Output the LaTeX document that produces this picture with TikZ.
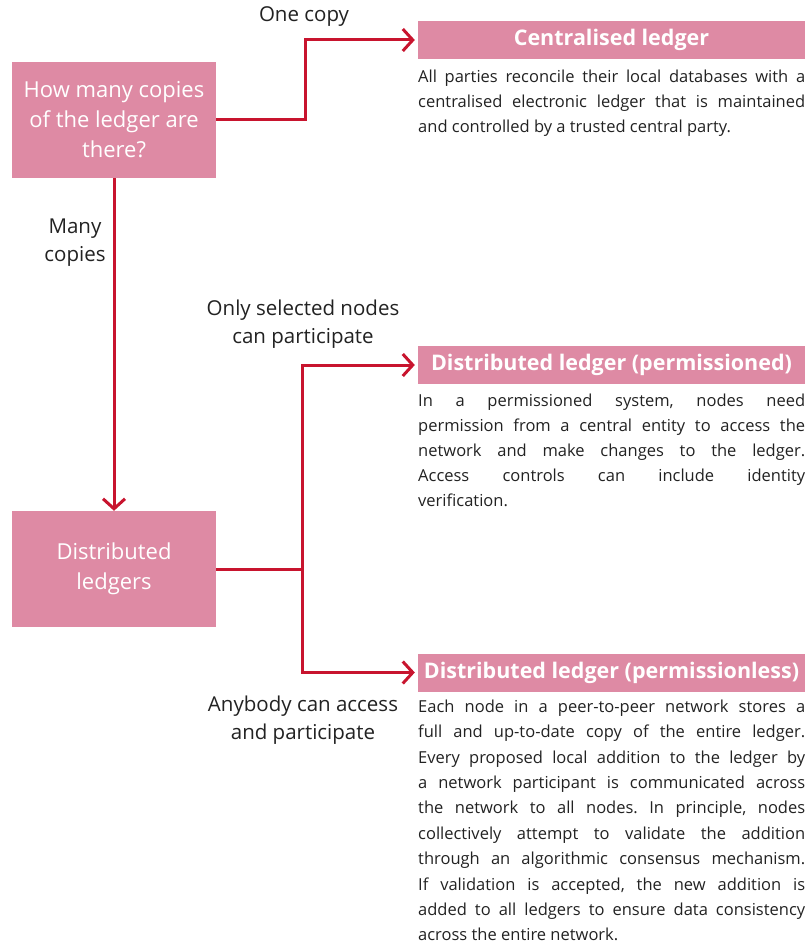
\documentclass[tikz,border=0pt]{standalone}
\usepackage{fontspec}
\setmainfont{Open Sans}
\usetikzlibrary{arrows.meta}
\definecolor{ledgerpink}{HTML}{DE8AA4}
\definecolor{ledgerred}{HTML}{C8142E}
\definecolor{ledgerink}{HTML}{222222}
\frenchspacing

\begin{document}
\begin{tikzpicture}[x=1pt,y=-1pt,
    qbox/.style={fill=ledgerpink, text=white, minimum width=204pt,
      minimum height=116pt, align=center, inner sep=0pt,
      font=\fontsize{22}{30}\selectfont},
    headbox/.style={fill=ledgerpink, text=white, minimum width=387pt,
      minimum height=38pt, inner sep=0pt,
      font=\bfseries\fontsize{21.5}{24}\selectfont},
    bodytext/.style={text=ledgerink, text width=387pt, align=justify,
      inner sep=0pt, anchor=north west,
      font={\fontsize{16.5}{25}\selectfont\hyphenpenalty=10000 \emergencystretch=20pt\relax}},
    choicetext/.style={text=ledgerink, align=center,
      font=\fontsize{20.5}{28}\selectfont},
    link/.style={draw=ledgerred, line width=3pt,
      -{Straight Barb[length=10pt,width=22pt]}}]
  \useasboundingbox (0,0) rectangle (808,947);

  % Boxes
  \node[qbox] (howmany) at (114,120) {How many copies\\of the ledger are\\there?};
  \node[qbox] (distrib) at (114,569) {Distributed\\ledgers};
  \node[headbox] (central) at (611.5,40) {Centralised ledger};
  \node[headbox] (permd) at (611.5,365) {Distributed ledger (permissioned)};
  \node[headbox] (permless) at (611.5,672.5) {Distributed ledger (permissionless)};

  % Descriptions
  \node[bodytext] (centraltext) at (418,70) {All parties reconcile their local databases with a\linebreak
    centralised electronic ledger that is maintained\linebreak
    and controlled by a trusted central party.};
  \node[bodytext] (permdtext) at (418,394) {In a permissioned system, nodes need\linebreak
    permission from a central entity to access the\linebreak
    network and make changes to the ledger.\linebreak
    Access controls can include identity\linebreak
    verification.};
  \node[bodytext, font={\fontsize{16.5}{25.4}\selectfont\hyphenpenalty=10000 \emergencystretch=20pt\relax}]
    (permlesstext) at (418,699.5) {Each node in a peer-to-peer network stores a\linebreak
    full and up-to-date copy of the entire ledger.\linebreak
    Every proposed local addition to the ledger by\linebreak
    a network participant is communicated across\linebreak
    the network to all nodes. In principle, nodes\linebreak
    collectively attempt to validate the addition\linebreak
    through an algorithmic consensus mechanism.\linebreak
    If validation is accepted, the new addition is\linebreak
    added to all ledgers to ensure data consistency\linebreak
    across the entire network.};

  % Choices
  \node[choicetext] (onecopy) at (304,17) {One copy};
  \node[choicetext] (manycopies) at (75,243) {Many\\copies};
  \node[choicetext] (selected) at (303,324) {Only selected nodes\\can participate};
  \node[choicetext] (anybody) at (303,720) {Anybody can access\\and participate};

  % Connectors
  \draw[link, shorten >=3pt] (howmany.east) -- ++(89,0) |- (central.west);
  \draw[link] (howmany.south) -- (distrib.north);
  \draw[link, shorten >=3pt] (distrib.east) -- ++(86,0) |- (permd.west);
  \draw[link, shorten >=3pt] (distrib.east) -- ++(86,0) |- (permless.west);
\end{tikzpicture}
\end{document}
